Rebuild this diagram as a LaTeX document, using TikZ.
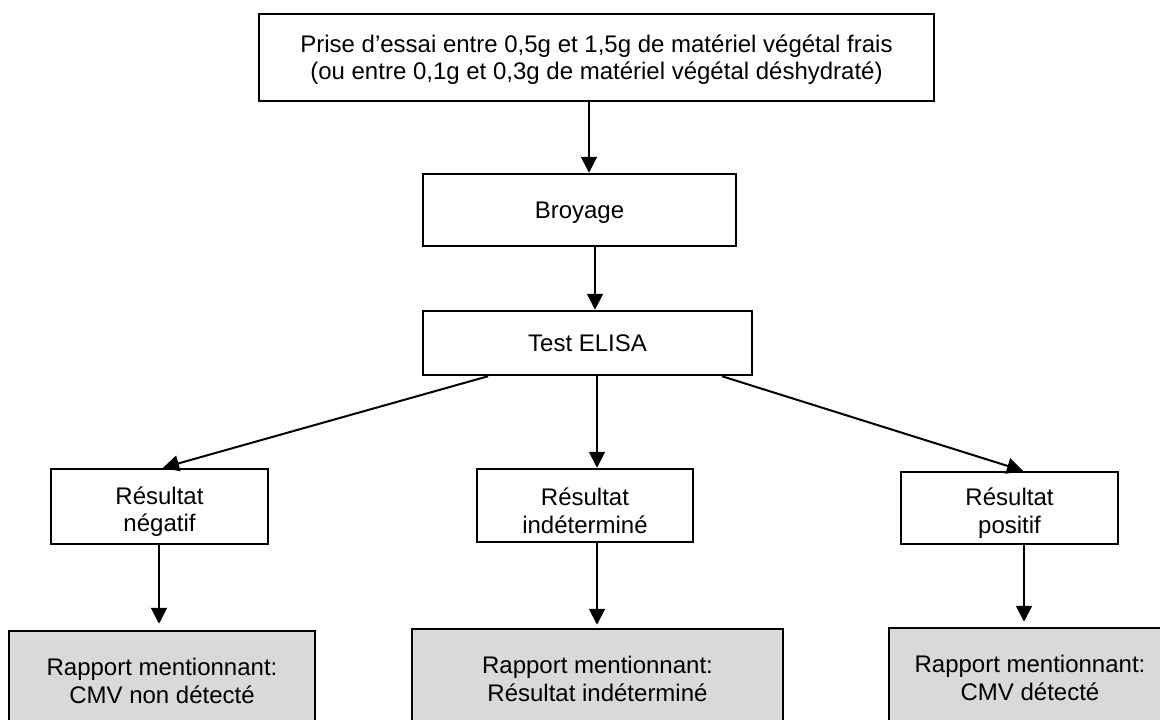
\documentclass[tikz,border=0pt]{standalone}
\usepackage{fontspec}
\setmainfont{Liberation Sans}
\usetikzlibrary{arrows.meta}
\definecolor{boxgray}{RGB}{217,217,217}
\newcommand{\lowerstrut}{\rule{0pt}{28pt}}
\begin{document}
\begin{tikzpicture}[x=1pt,y=-1pt,
  every node/.style={font=\fontsize{24}{27.6}\selectfont, align=center, inner sep=0pt},
  stepbox/.style={draw=black, line width=2.5pt, fill=white, rectangle},
  reportbox/.style={draw=black, line width=2.5pt, fill=boxgray, rectangle},
  arr/.style={line width=2pt, -{Triangle[length=16pt,width=16pt]}}]
\useasboundingbox (0,0) rectangle (1160,720);
\clip (0,0) rectangle (1160,720);
\fill[white] (0,0) rectangle (1160,720);

\node[stepbox, minimum width=675pt, minimum height=87pt] (top) at (596.5,57.5)
  {\rule{0pt}{22pt}Prise d’essai entre 0,5g et 1,5g de matériel végétal frais\\(ou entre 0,1g et 0,3g de matériel végétal déshydraté)};
\node[stepbox, minimum width=313pt, minimum height=72pt] (broy) at (579.5,210) {\rule{0pt}{21pt}Broyage};
\node[stepbox, minimum width=329pt, minimum height=64pt] (elisa) at (587.5,343) {Test ELISA};

\node[stepbox, minimum width=217pt, minimum height=75pt] (neg) at (159.5,506.5) {\lowerstrut Résultat\\négatif};
\node[stepbox, minimum width=216pt, minimum height=73pt] (mid) at (585,505.5) {\lowerstrut Résultat\\indéterminé};
\node[stepbox, minimum width=217pt, minimum height=72pt] (pos) at (1009.5,508) {\lowerstrut Résultat\\positif};

\node[reportbox, minimum width=306pt, minimum height=100pt] (rneg) at (162,681) {Rapport mentionnant:\\CMV non détecté};
\node[reportbox, minimum width=371pt, minimum height=100pt] (rmid) at (597.5,679) {Rapport mentionnant:\\Résultat indéterminé};
\node[reportbox, minimum width=282pt, minimum height=100pt] (rpos) at (1030,678) {Rapport mentionnant:\\CMV détecté};

\draw[arr] ([xshift=-7.5pt]top.south) -- ([xshift=9.5pt]broy.north);
\draw[arr] ([xshift=15.5pt]broy.south) -- ([xshift=7.5pt]elisa.north);
\draw[arr] ([xshift=-99.5pt]elisa.south) -- ([xshift=3.5pt]neg.north);
\draw[arr] ([xshift=9.5pt]elisa.south) -- ([xshift=12pt]mid.north);
\draw[arr] ([xshift=134.5pt]elisa.south) -- ([xshift=13.5pt]pos.north);
\draw[arr, shorten >=6pt] ([xshift=-0.5pt]neg.south) -- ([xshift=-3pt]rneg.north);
\draw[arr, shorten >=3pt] ([xshift=12pt]mid.south) -- ([xshift=-0.5pt]rmid.north);
\draw[arr, shorten >=5pt] ([xshift=14.5pt]pos.south) -- ([xshift=-6pt]rpos.north);
\end{tikzpicture}
\end{document}
